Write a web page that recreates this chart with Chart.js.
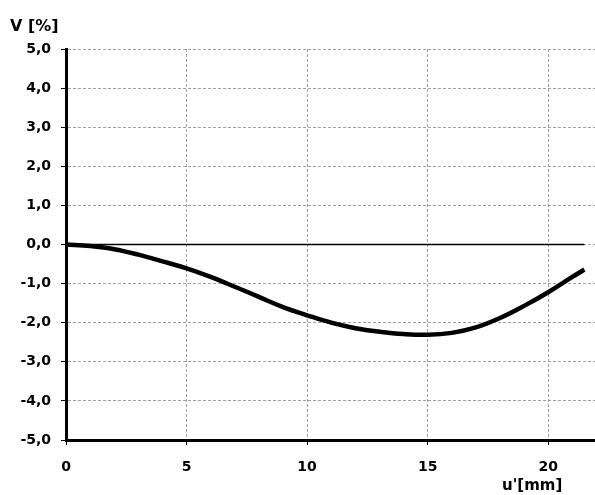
<!DOCTYPE html>
<html>
<head>
<meta charset="utf-8">
<script src="https://cdn.jsdelivr.net/npm/chart.js@4/dist/chart.umd.min.js"></script>
<style>
  html, body { margin: 0; padding: 0; background: #fff; }
  #wrap { width: 595px; height: 495px; }
</style>
</head>
<body>
<div id="wrap"><canvas id="chart-v"></canvas></div>
<script>
"use strict";

// u' [mm] and V [%]
const u_values = [0, 1, 2, 3, 4, 5, 6, 7, 8, 9, 10, 11, 12, 13, 14, 15, 16, 17, 18, 19, 20, 21, 21.5];
const v_values = [0, -0.04, -0.12, -0.26, -0.43, -0.61, -0.83, -1.08, -1.34, -1.6, -1.81, -2.0, -2.14, -2.23, -2.29, -2.31, -2.26, -2.12, -1.88, -1.57, -1.22, -0.83, -0.64];
const zero_line_u = [0, 21.5];
const x_ticks = [0, 5, 10, 15, 20];
const y_ticks = [-5, -4, -3, -2, -1, 0, 1, 2, 3, 4, 5];

const FONT = "'DejaVu Sans', sans-serif";

function to_points(xs, ys) {
    return xs.map((x, i) => ({x: x, y: ys[i]}));
}

const title_plugin = {
    id: 'titles',
    afterDraw(chart) {
        const ctx = chart.ctx;
        ctx.save();
        ctx.fillStyle = '#000';
        ctx.textBaseline = 'alphabetic';
        ctx.font = "bold 16px " + FONT;
        ctx.fillText('V [%]', 10, 31);
        ctx.font = "bold 15px " + FONT;
        ctx.fillText("u'[mm]", 502, 490);
        ctx.restore();
    }
};

function load_chart(canvas_element) {
    new Chart(canvas_element, {
        type: 'line',
        data: {
            datasets: [
                {
                    data: to_points(zero_line_u, zero_line_u.map(() => 0)),
                    borderColor: '#000',
                    borderWidth: 1.5,
                    pointRadius: 0,
                    tension: 0,
                },
                {
                    data: to_points(u_values, v_values),
                    borderColor: '#000',
                    borderWidth: 4.5,
                    pointRadius: 0,
                    tension: 0.4,
                },
            ]
        },
        options: {
            responsive: true,
            maintainAspectRatio: false,
            animation: false,
            layout: {padding: {top: 49, right: 0, left: 0, bottom: 0}},
            plugins: {
                legend: {display: false},
                tooltip: {enabled: false},
            },
            scales: {
                x: {
                    type: 'linear',
                    min: 0,
                    max: 21.94,
                    afterBuildTicks: scale => {
                        scale.ticks = x_ticks.map(v => ({value: v}));
                    },
                    afterFit: scale => { scale.height = 55; },
                    grid: {
                        color: '#a0a0a0',
                        lineWidth: 1,
                        tickColor: '#000',
                        tickLength: 5,
                        tickWidth: 1,
                    },
                    border: {color: '#000', width: 3, dash: [3, 2]},
                    ticks: {
                        color: '#000',
                        padding: 14,
                        maxRotation: 0,
                        font: {family: FONT, size: 14, weight: 'bold'},
                        callback: v => String(v),
                    },
                },
                y: {
                    min: -5,
                    max: 5,
                    afterBuildTicks: scale => {
                        scale.ticks = y_ticks.map(v => ({value: v}));
                    },
                    afterFit: scale => { scale.width = 66; },
                    grid: {
                        color: '#a0a0a0',
                        lineWidth: 1,
                        tickColor: '#000',
                        tickLength: 5,
                        tickWidth: 1,
                    },
                    border: {color: '#000', width: 3, dash: [3, 2]},
                    ticks: {
                        color: '#000',
                        padding: 10,
                        font: {family: FONT, size: 14, weight: 'bold'},
                        callback: v => v.toFixed(1).replace('.', ','),
                    },
                },
            },
        },
        plugins: [title_plugin],
    });
}

load_chart(document.getElementById('chart-v'));
</script>
</body>
</html>
